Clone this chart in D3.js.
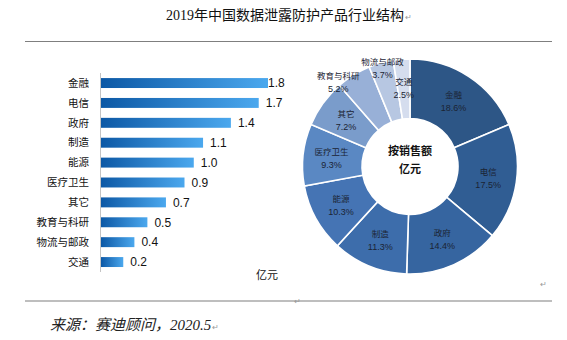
<!DOCTYPE html>
<html><head><meta charset="utf-8">
<script src="https://cdn.jsdelivr.net/npm/d3@7/dist/d3.min.js"></script>
<style>body{margin:0;background:#fff}svg{display:block}</style>
</head><body><svg id="c" width="567" height="340"></svg>
<script>
const categories = ["金融","电信","政府","制造","能源","医疗卫生","其它","教育与科研","物流与邮政","交通"];
const salesValues = [1.8,1.7,1.4,1.1,1.0,0.9,0.7,0.5,0.36,0.24];
const sharePercent = [18.6,17.5,14.4,11.3,10.3,9.3,7.2,5.2,3.7,2.5];
const sliceColors = ["#2d5686","#305d93","#3665a0","#3d6dab","#4574b4","#5a88c3","#7a9ccb","#98b0d7","#b7c7e2","#d5ddee"];
const titleText = "2019年中国数据泄露防护产品行业结构";
const sourceText = "来源：赛迪顾问，2020.5";
const unitText = "亿元";
const centerText = ["按销售额","亿元"];

const svg = d3.select("#c");
const cjk = "'Noto Sans CJK SC', sans-serif";

// title and rules
const title = svg.append("text").attr("x",285).attr("y",20).attr("text-anchor","middle")
  .style("font-family","'Liberation Serif', 'Noto Sans CJK SC', serif").style("font-size","14px").attr("fill","#111").text(titleText);
const tw = title.node().getComputedTextLength();
svg.append("text").attr("x",285+tw/2+1).attr("y",20).style("font-size","8px").attr("fill","#999").text("↵");
svg.append("line").attr("x1",25).attr("x2",552).attr("y1",41.5).attr("y2",41.5).attr("stroke","#7f7f7f").attr("stroke-width",1.2);
svg.append("line").attr("x1",25).attr("x2",552).attr("y1",301).attr("y2",301).attr("stroke","#7f7f7f").attr("stroke-width",1.2);
svg.append("text").attr("x",540).attr("y",287).style("font-size","8px").attr("fill","#999").text("↵");
svg.append("text").attr("x",294).attr("y",304).style("font-size","8px").attr("fill","#999").text("↵");
const src = svg.append("text").attr("x",50).attr("y",330)
  .style("font-family","'Liberation Serif', 'Noto Sans CJK SC', serif").style("font-style","italic").style("font-size","15px").attr("fill","#222").text(sourceText);
const sw = src.node().getComputedTextLength();
svg.append("text").attr("x",50+sw+1).attr("y",330).style("font-size","8px").attr("fill","#999").text("↵");

// bar chart
const defs = svg.append("defs");
const grad = defs.append("linearGradient").attr("id","barGrad").attr("x1","0%").attr("x2","100%");
grad.append("stop").attr("offset","0%").attr("stop-color","#0c58a5");
grad.append("stop").attr("offset","100%").attr("stop-color","#4ba8ee");

const x = d3.scaleLinear().domain([0,1.8]).range([101,268]);
const y = d3.scaleBand().domain(categories).range([73.1,272]).paddingInner(0.5).paddingOuter(0.25);

svg.append("line").attr("x1",100.5).attr("x2",100.5).attr("y1",73).attr("y2",272).attr("stroke","#c4c4c4");

svg.append("g").selectAll("rect").data(categories).join("rect")
  .attr("x",x(0)).attr("y",d=>y(d)).attr("height",y.bandwidth())
  .attr("width",(d,i)=>x(salesValues[i])-x(0)).attr("fill","url(#barGrad)");

svg.append("g").selectAll("text").data(categories).join("text")
  .attr("x",89).attr("y",d=>y(d)+y.bandwidth()/2).attr("dy","0.36em").attr("text-anchor","end")
  .style("font-family",cjk).style("font-size","10.5px").attr("fill","#111").text(d=>d);

const fmt = d3.format(".1f");
svg.append("g").selectAll("text").data(categories).join("text")
  .attr("x",(d,i)=>Math.min(x(salesValues[i])+7,268)).attr("y",d=>y(d)+y.bandwidth()/2).attr("dy","0.36em")
  .style("font-family","'Liberation Sans', Arial, sans-serif").style("font-size","12px").attr("fill","#111")
  .text((d,i)=>fmt(salesValues[i]));

svg.append("text").attr("x",267).attr("y",279).attr("text-anchor","middle")
  .style("font-family",cjk).style("font-size","11px").attr("fill","#111").text(unitText);

// donut
const cx = 410, cy = 166.5, rOuter = 107.5, rInner = 48;
const labelPlacement = {"教育与科研":{r:111, da:-0.15}, "物流与邮政":{r:102, da:0}};
const pie = d3.pie().sort(null).value(d=>d.v);
const arcs = pie(categories.map((c,i)=>({c, v:sharePercent[i], col:sliceColors[i]})));
const arc = d3.arc().innerRadius(rInner).outerRadius(rOuter);
const g = svg.append("g").attr("transform",`translate(${cx},${cy})`);
g.selectAll("path").data(arcs).join("path").attr("d",arc)
  .attr("fill",d=>d.data.col).attr("stroke","#fff").attr("stroke-width",1.6);

const lab = g.append("g").selectAll("g").data(arcs).join("g")
  .attr("transform",d=>{
    const p = labelPlacement[d.data.c] || {r:79, da:0};
    const a = (d.startAngle+d.endAngle)/2 + p.da;
    return `translate(${p.r*Math.sin(a)},${-p.r*Math.cos(a)})`;
  });
lab.append("text").attr("text-anchor","middle").attr("y",-3)
  .style("font-family",cjk).style("font-size","8.5px").attr("fill","#1b2433").text(d=>d.data.c);
lab.append("text").attr("text-anchor","middle").attr("y",10)
  .style("font-family","'Liberation Sans', Arial, sans-serif").style("font-size","9px").attr("fill","#1b2433")
  .text(d=>d.data.v.toFixed(1)+"%");

g.selectAll("text.center").data(centerText).join("text").attr("class","center")
  .attr("text-anchor","middle").attr("y",(d,i)=>-12+i*18)
  .style("font-family",cjk).style("font-size","11px").style("font-weight","bold").attr("fill","#111").text(d=>d);
</script></body></html>
